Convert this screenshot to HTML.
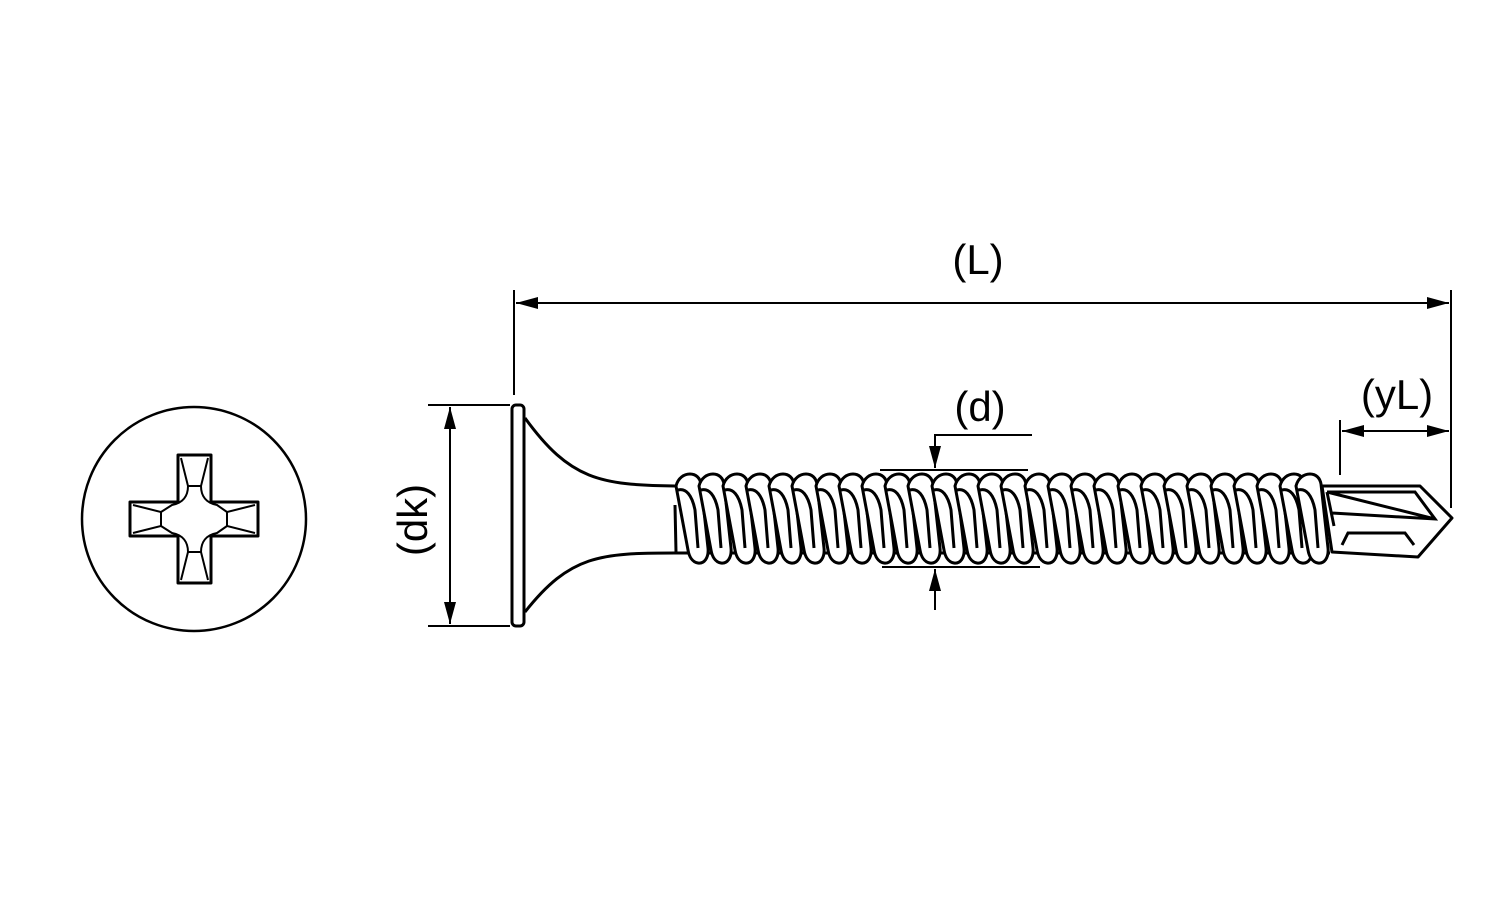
<!DOCTYPE html>
<html><head><meta charset="utf-8"><style>
html,body{margin:0;padding:0;background:#fff;}
svg{display:block;}
text{font-family:"Liberation Sans",sans-serif;font-size:42px;fill:#000;}
</style></head><body>
<svg width="1500" height="900" viewBox="0 0 1500 900" xmlns="http://www.w3.org/2000/svg" xmlns:xlink="http://www.w3.org/1999/xlink">
<defs>
<g id="t" fill="#fff" stroke="#000" stroke-width="3" stroke-linejoin="round">
<path d="M-14,486 C-12,478 -6,474 0,474 C6,474 10,478 11,484 L18,548 C19,558 14,564 8,563 C2,562 -1,556 -2,550 Z"/>
<path d="M-12,490 C-4,488 2,495 5,510 L8,548" fill="none"/>
</g>
<marker id="a" viewBox="0 0 22 12" refX="22" refY="6" markerWidth="22" markerHeight="12" markerUnits="userSpaceOnUse" orient="auto-start-reverse"><path d="M0,0 L22,6 L0,12 Z" fill="#000"/></marker>
</defs>
<!-- top view -->
<circle cx="194" cy="519" r="112" fill="none" stroke="#000" stroke-width="2.5"/>
<path d="M178,455 H211 V502 H258 V536 H211 V583 H178 V536 H130 V502 H178 Z" fill="none" stroke="#000" stroke-width="3" stroke-linejoin="round"/>
<g fill="none" stroke="#000" stroke-width="2">
<path d="M181,458 L188,486 H201 L208,458"/>
<path d="M181,580 L188,552 H201 L208,580"/>
<path d="M133,505 L161,512 V526 L133,533"/>
<path d="M255,505 L227,512 V526 L255,533"/>
<path d="M188,486 C188,496 183,503 172,505 L161,512 M201,486 C201,496 206,503 217,505 L227,512 M188,552 C188,542 183,535 172,533 L161,526 M201,552 C201,542 206,535 217,533 L227,526"/>
</g>
<!-- head -->
<rect x="512" y="405" width="12" height="221" rx="4" fill="#fff" stroke="#000" stroke-width="3"/>
<path d="M525,418 C570,480 600,485 675,486 M525,612 C570,555 600,553 675,553" fill="none" stroke="#000" stroke-width="3"/>
<line x1="675" y1="486" x2="1330" y2="486" stroke="#000" stroke-width="3"/>
<line x1="675" y1="553" x2="1330" y2="553" stroke="#000" stroke-width="3"/>
<path d="M675,505 L676,552" stroke="#000" stroke-width="3"/>
<!-- threads -->
<use href="#t" x="690"/><use href="#t" x="713"/><use href="#t" x="737"/><use href="#t" x="760"/><use href="#t" x="783"/><use href="#t" x="806"/><use href="#t" x="830"/><use href="#t" x="853"/><use href="#t" x="876"/><use href="#t" x="899"/><use href="#t" x="922"/><use href="#t" x="946"/><use href="#t" x="969"/><use href="#t" x="992"/><use href="#t" x="1015"/><use href="#t" x="1039"/><use href="#t" x="1062"/><use href="#t" x="1085"/><use href="#t" x="1108"/><use href="#t" x="1132"/><use href="#t" x="1155"/><use href="#t" x="1178"/><use href="#t" x="1201"/><use href="#t" x="1225"/><use href="#t" x="1248"/><use href="#t" x="1271"/><use href="#t" x="1294"/><use href="#t" x="1310"/>
<!-- tip -->
<path d="M1322,486 L1420,486 L1452,518 L1418,557 L1332,552 Z" fill="#fff" stroke="#000" stroke-width="3" stroke-linejoin="round"/>
<g fill="none" stroke="#000" stroke-width="3">
<path d="M1327,492 L1415,492 L1435,519 L1332,513 M1327,492 L1435,519 M1327,492 L1334,526"/>
<path d="M1342,545 L1348,533 L1405,533 L1414,545"/>
</g>
<!-- dimensions -->
<g stroke="#000" stroke-width="2" fill="none">
<line x1="514" y1="290" x2="514" y2="395"/>
<line x1="1451" y1="290" x2="1451" y2="508"/>
<line x1="516" y1="303" x2="1449" y2="303" marker-start="url(#a)" marker-end="url(#a)"/>
<line x1="428" y1="405" x2="510" y2="405"/>
<line x1="428" y1="626" x2="510" y2="626"/>
<line x1="450" y1="407" x2="450" y2="624" marker-start="url(#a)" marker-end="url(#a)"/>
<line x1="1340" y1="420" x2="1340" y2="475"/>
<line x1="1342" y1="431" x2="1449" y2="431" marker-start="url(#a)" marker-end="url(#a)"/>
<line x1="880" y1="470" x2="1028" y2="470"/>
<line x1="882" y1="567" x2="1040" y2="567"/>
<polyline points="1032,435 935,435 935,468" marker-end="url(#a)"/>
<line x1="935" y1="610" x2="935" y2="569" marker-end="url(#a)"/>
</g>
<text x="978" y="274" text-anchor="middle">(L)</text>
<text x="980" y="421" text-anchor="middle">(d)</text>
<text x="1397" y="409" text-anchor="middle">(yL)</text>
<text transform="translate(427,520) rotate(-90)" text-anchor="middle">(dk)</text>
</svg>
</body></html>
